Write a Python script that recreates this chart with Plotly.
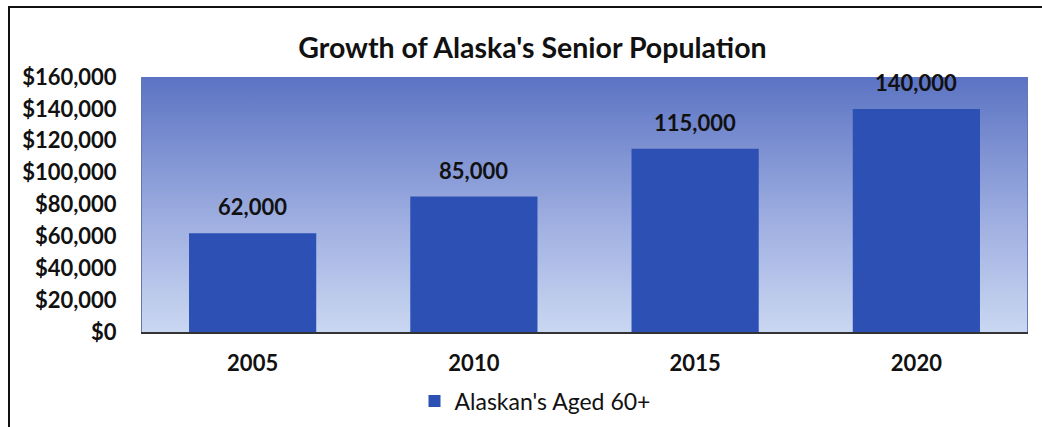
import plotly.graph_objects as go

# Data
years = ["2005", "2010", "2015", "2020"]
seniors = [62000, 85000, 115000, 140000]
y_ticks = [0, 20000, 40000, 60000, 80000, 100000, 120000, 140000, 160000]
y_tick_labels = ["$0", "$20,000", "$40,000", "$60,000", "$80,000",
                 "$100,000", "$120,000", "$140,000", "$160,000"]

FONT = "Lato, 'Open Sans', sans-serif"
BAR_COLOR = "#2d50b4"
TEXT = "#111111"

x_pos = list(range(len(years)))
x_lo, x_hi = -0.5, len(years) - 0.5
y_lo, y_hi = y_ticks[0], y_ticks[-1]

fig = go.Figure()

# Gradient backdrop on the base axes (drawn underneath the overlay)
fig.add_trace(go.Scatter(
    x=[x_lo, x_hi, x_hi, x_lo, x_lo],
    y=[y_lo, y_lo, y_hi, y_hi, y_lo],
    mode="lines",
    line=dict(width=0),
    fill="toself",
    fillgradient=dict(
        type="vertical",
        colorscale=[[0, "#cad7f1"], [0.45, "#9dade0"], [1, "#5b73c3"]],
    ),
    hoverinfo="skip",
    showlegend=False,
    xaxis="x", yaxis="y",
))

# Bars on an overlaying pair of axes so they sit above the backdrop
fig.add_trace(go.Bar(
    x=x_pos,
    y=seniors,
    width=0.575,
    marker=dict(color=BAR_COLOR, line=dict(width=0)),
    name="Alaskan's Aged 60+",
    xaxis="x2", yaxis="y2",
))

# Value labels above bars
for xp, v in zip(x_pos, seniors):
    fig.add_annotation(
        x=xp, y=v, xref="x2", yref="y2", text=f"{v:,}",
        showarrow=False, yanchor="bottom", yshift=11,
        font=dict(family=FONT, size=22, color=TEXT, weight="bold"),
    )

# Outer chart frame
fig.add_shape(
    type="rect", xref="paper", yref="paper",
    x0=-133 / 885, x1=1.05, y0=-0.5, y1=1 + 70 / 255,
    line=dict(color=TEXT, width=2), fillcolor="rgba(0,0,0,0)",
    layer="below",
)

fig.update_layout(
    width=1042, height=427,
    margin=dict(l=142, r=15, t=77, b=95),
    paper_bgcolor="white",
    plot_bgcolor="white",
    title=dict(
        text="Growth of Alaska's Senior Population",
        x=0.511, xanchor="center", y=1 - 48 / 427, yanchor="middle",
        font=dict(family=FONT, size=28.5, color=TEXT, weight="bold"),
    ),
    xaxis=dict(
        range=[x_lo, x_hi],
        tickvals=x_pos, ticktext=years,
        showgrid=False, zeroline=False,
        showline=True, linecolor="#333333", linewidth=1.5,
        ticks="", ticklabelstandoff=11, automargin=False,
        tickfont=dict(family=FONT, size=22, color=TEXT, weight="bold"),
    ),
    yaxis=dict(
        range=[y_lo, y_hi],
        tickvals=y_ticks, ticktext=y_tick_labels,
        showgrid=False, zeroline=False,
        showline=True, linecolor="#6677b0", linewidth=1, mirror=True,
        ticks="", ticklabelstandoff=20, automargin=False,
        tickfont=dict(family=FONT, size=22, color=TEXT, weight="bold"),
    ),
    xaxis2=dict(
        range=[x_lo, x_hi], overlaying="x", visible=False,
        showgrid=False, zeroline=False,
    ),
    yaxis2=dict(
        range=[y_lo, y_hi], overlaying="y", visible=False,
        showgrid=False, zeroline=False,
    ),
    legend=dict(
        orientation="h", xref="container", x=535 / 1042, xanchor="center",
        yref="container", y=1 - 401 / 427, yanchor="middle",
        font=dict(family=FONT, size=23, color=TEXT),
        itemwidth=30,
    ),
    showlegend=True,
)

fig.write_html("out.html")
